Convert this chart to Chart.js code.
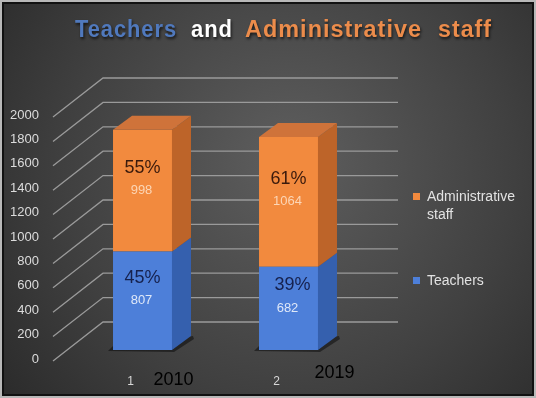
<!DOCTYPE html>
<html lang="en">
<head>
<meta charset="UTF-8">
<title>Teachers and Administrative staff</title>
<script src="https://cdn.jsdelivr.net/npm/chart.js"></script>
<style>
  html, body { margin: 0; padding: 0; background: #fff; }
  #wrap { width: 536px; height: 398px; position: relative; }
</style>
</head>
<body>
<div id="wrap"><canvas id="grafico" width="536" height="398"></canvas></div>
<script>
// data
const categorias = ['1', '2'];
const anos = ['2010', '2019'];
const professores = [807, 682];
const administrativos = [998, 1064];
const yTicks = [0, 200, 400, 600, 800, 1000, 1200, 1400, 1600, 1800, 2000];

const DX = 19, DY = -14; // depth of the fake 3d

function shade(ctx, pts, color) {
  ctx.beginPath();
  ctx.moveTo(pts[0][0], pts[0][1]);
  for (let i = 1; i < pts.length; i++) ctx.lineTo(pts[i][0], pts[i][1]);
  ctx.closePath();
  ctx.fillStyle = color;
  ctx.fill();
}

// background, border and title
const fundo = {
  id: 'fundo',
  beforeDraw(chart) {
    const ctx = chart.ctx;
    ctx.save();
    ctx.fillStyle = '#b8b8b8';
    ctx.fillRect(0, 0, 536, 398);
    ctx.fillStyle = '#111';
    ctx.fillRect(2, 2, 532, 394);
    const g = ctx.createRadialGradient(290, 160, 10, 290, 180, 400);
    g.addColorStop(0, '#5d5d5d');
    g.addColorStop(0.55, '#404040');
    g.addColorStop(1, '#252525');
    ctx.fillStyle = g;
    ctx.fillRect(4, 4, 528, 390);

    ctx.font = 'bold 23px "Liberation Sans", Arial, sans-serif';
    ctx.textBaseline = 'middle';
    ctx.textAlign = 'left';
    ctx.letterSpacing = '1px';
    ctx.shadowColor = 'rgba(0,0,0,0.7)';
    ctx.shadowBlur = 3;
    ctx.shadowOffsetX = 1;
    ctx.shadowOffsetY = 2;
    // word, left, width, colour
    const palavras = [
      ['Teachers', 75, 102, '#5079bd'],
      ['and', 191, 42, '#ffffff'],
      ['Administrative', 245, 177, '#ec8c4b'],
      ['staff', 438, 54, '#ec8c4b']
    ];
    palavras.forEach(p => {
      const w = ctx.measureText(p[0]).width;
      ctx.save();
      ctx.translate(p[1], 31);
      ctx.scale(p[2] / w, 1);
      ctx.fillStyle = p[3];
      ctx.fillText(p[0], 0, 0);
      ctx.restore();
    });
    ctx.restore();
  }
};

// perspective grid and floor shadow behind bars
const grade = {
  id: 'grade',
  beforeDatasetsDraw(chart) {
    const ctx = chart.ctx;
    const y = chart.scales.y;
    ctx.save();
    ctx.strokeStyle = '#9a9a9a';
    ctx.lineWidth = 1.3;
    yTicks.forEach(v => {
      const py = y.getPixelForValue(v);
      ctx.beginPath();
      ctx.moveTo(53, py + 11);
      ctx.lineTo(103, py - 28);
      ctx.lineTo(398, py - 28);
      ctx.stroke();
    });
    chart.getDatasetMeta(0).data.forEach(bar => {
      const l = bar.x - bar.width / 2, r = bar.x + bar.width / 2;
      shade(ctx, [[l - 5, bar.base + 1], [l, bar.base - 4], [r + DX + 2, bar.base + DY], [r + DX + 3, bar.base + DY + 3], [r + 2, bar.base + 2]], 'rgba(0,0,0,0.45)');
    });
    ctx.restore();
  }
};

// sides, tops and labels of the bars
const barras3d = {
  id: 'barras3d',
  afterDatasetsDraw(chart) {
    const ctx = chart.ctx;
    const lados = ['#3560ae', '#bd6429'];
    const topos = ['#4a78cc', '#cf733a'];
    ctx.save();
    chart.data.datasets.forEach((ds, di) => {
      const meta = chart.getDatasetMeta(di);
      meta.data.forEach((bar, i) => {
        const r = bar.x + bar.width / 2, l = bar.x - bar.width / 2;
        shade(ctx, [[r, bar.y], [r + DX, bar.y + DY], [r + DX, bar.base + DY], [r, bar.base]], lados[di]);
        if (di === chart.data.datasets.length - 1) {
          shade(ctx, [[l, bar.y], [l + DX, bar.y + DY], [r + DX, bar.y + DY], [r, bar.y]], topos[di]);
        }
      });
    });

    // labels
    const pctCor = ['#16214d', '#3a1a0c'];
    const valCor = ['#dfe8f8', '#fcd6b6'];
    chart.data.datasets.forEach((ds, di) => {
      const meta = chart.getDatasetMeta(di);
      meta.data.forEach((bar, i) => {
        const total = professores[i] + administrativos[i];
        const pct = Math.round(ds.data[i] / total * 100) + '%';
        const cy = (bar.y + bar.base) / 2;
        ctx.textAlign = 'center';
        ctx.textBaseline = 'middle';
        ctx.font = '18px "Liberation Sans", Arial, sans-serif';
        ctx.fillStyle = pctCor[di];
        ctx.fillText(pct, bar.x + (di === 0 && i === 1 ? 4 : 0), cy - 23);
        ctx.font = '13px "Liberation Sans", Arial, sans-serif';
        ctx.fillStyle = valCor[di];
        ctx.fillText(ds.data[i], bar.x - 1, cy);
      });
    });

    // year labels
    const xs = chart.scales.x;
    ctx.font = '18px "Liberation Sans", Arial, sans-serif';
    ctx.fillStyle = '#000';
    ctx.textAlign = 'center';
    ctx.fillText(anos[0], xs.getPixelForValue(0) + 31, 380);
    ctx.fillText(anos[1], xs.getPixelForValue(1) + 46, 373);

    // legend
    ctx.textAlign = 'left';
    ctx.font = '14px "Liberation Sans", Arial, sans-serif';
    const leg = [
      [chart.data.datasets[1], 197],
      [chart.data.datasets[0], 281]
    ];
    leg.forEach(item => {
      const ds = item[0], ly = item[1];
      ctx.fillStyle = ds.backgroundColor;
      ctx.fillRect(413, ly - 4, 7, 7);
      ctx.fillStyle = '#e2e2e2';
      const partes = ds.label === 'Administrative staff' ? ['Administrative', 'staff'] : [ds.label];
      partes.forEach((t, k) => ctx.fillText(t, 427, ly + k * 18));
    });
    ctx.restore();
  }
};

new Chart(document.getElementById('grafico'), {
  type: 'bar',
  data: {
    labels: categorias,
    datasets: [
      { label: 'Teachers', data: professores, backgroundColor: '#4d7fd9' },
      { label: 'Administrative staff', data: administrativos, backgroundColor: '#f28a3e' }
    ]
  },
  options: {
    responsive: false,
    animation: false,
    layout: { padding: { top: 106, right: 174.5, bottom: 0, left: 0 } },
    datasets: { bar: { categoryPercentage: 1, barPercentage: 0.404 } },
    plugins: {
      legend: { display: false },
      title: { display: false },
      tooltip: { enabled: false }
    },
    scales: {
      x: {
        stacked: true,
        grid: { display: false, drawTicks: false },
        border: { display: false },
        afterFit: s => { s.height = 48; },
        ticks: {
          color: '#d8d8d8',
          padding: 24,
          labelOffset: -12,
          font: { size: 12, family: '"Liberation Sans", Arial, sans-serif' }
        }
      },
      y: {
        stacked: true,
        min: 0,
        max: 2000,
        grid: { display: false, drawTicks: false },
        border: { display: false },
        afterFit: s => { s.width = 69.5; },
        ticks: {
          stepSize: 200,
          color: '#dcdcdc',
          padding: 30.5,
          labelOffset: 9,
          callback: v => String(v),
          font: { size: 13, family: '"Liberation Sans", Arial, sans-serif' }
        }
      }
    }
  },
  plugins: [fundo, grade, barras3d]
});
</script>
</body>
</html>
